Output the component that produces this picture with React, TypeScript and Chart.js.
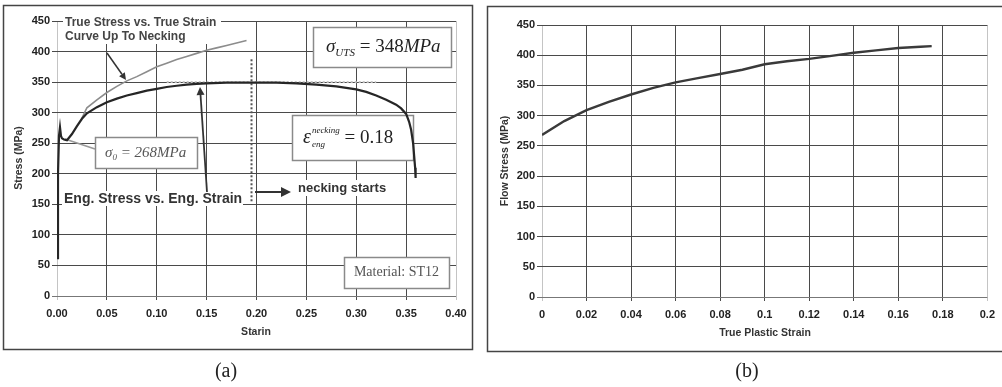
import React, { useEffect, useRef } from "react";
import { Chart, registerables } from "chart.js";
Chart.register(...registerables);

// ---------- (a) Engineering / true stress-strain ----------
const engStrain = [0, 0.001, 0.002, 0.003, 0.004, 0.005, 0.007, 0.01, 0.015, 0.02, 0.025, 0.03, 0.04, 0.05, 0.06, 0.07, 0.08, 0.09, 0.1, 0.11, 0.12, 0.13, 0.14, 0.15, 0.17, 0.2, 0.22, 0.24, 0.26, 0.28, 0.3, 0.31, 0.32, 0.33, 0.34, 0.345, 0.35, 0.353, 0.355, 0.357, 0.358, 0.359, 0.3595];
const engStress = [62, 200, 262, 276, 262, 258, 256, 255, 265, 278, 290, 299, 309, 317, 323, 328, 332, 336, 339, 342, 344, 346, 347, 348, 349, 349, 349, 348, 346, 343, 338, 334, 328, 321, 313, 307, 298, 285, 272, 250, 230, 210, 193];
const trueStrain = [0.025, 0.03, 0.04, 0.05, 0.06, 0.07, 0.08, 0.09, 0.1, 0.11, 0.12, 0.13, 0.14, 0.15, 0.16, 0.17, 0.18, 0.19];
const trueStress = [291, 308, 321, 333, 343, 352, 359, 367, 375, 381, 387, 392, 397, 402, 406, 410, 414, 418];
const utsLineStrain = [0.11, 0.32];
const utsLineStress = [350, 350];
const neckLineStrain = [0.195, 0.195];
const neckLineStress = [155, 390];
const aXTickValues = [0, 0.05, 0.1, 0.15, 0.2, 0.25, 0.3, 0.35, 0.4];
const aXTickLabels = ["0.00", "0.05", "0.10", "0.15", "0.20", "0.25", "0.30", "0.35", "0.40"];
const yTickValues = [0, 50, 100, 150, 200, 250, 300, 350, 400, 450];
const yTickLabels = ["0", "50", "100", "150", "200", "250", "300", "350", "400", "450"];

// ---------- (b) Flow stress ----------
const flowStrain = [0, 0.01, 0.02, 0.03, 0.04, 0.05, 0.06, 0.07, 0.08, 0.09, 0.1, 0.11, 0.12, 0.13, 0.14, 0.15, 0.16, 0.17, 0.175];
const flowStress = [268, 291, 309, 323, 335, 346, 355, 362, 369, 376, 385, 390, 394, 399, 404, 408, 412, 414, 415];
const bXTickValues = [0, 0.02, 0.04, 0.06, 0.08, 0.1, 0.12, 0.14, 0.16, 0.18, 0.2];
const bXTickLabels = ["0", "0.02", "0.04", "0.06", "0.08", "0.1", "0.12", "0.14", "0.16", "0.18", "0.2"];

const SANS = "'Liberation Sans', Arial, sans-serif";
const SERIF = "'Liberation Serif', 'Times New Roman', serif";
const GRID = "#4a4a4a";

const pts = (xs: number[], ys: number[]) => xs.map((x, i) => ({ x, y: ys[i] }));

type Seg = { t: string; font: string; dy?: number; adv?: boolean };
function drawRich(ctx: CanvasRenderingContext2D, x: number, y: number, segs: Seg[], color: string) {
  ctx.save();
  ctx.fillStyle = color;
  ctx.textAlign = "left";
  ctx.textBaseline = "alphabetic";
  let cx = x;
  for (const s of segs) {
    ctx.font = s.font;
    ctx.fillText(s.t, cx, y + (s.dy || 0));
    if (s.adv !== false) cx += ctx.measureText(s.t).width;
  }
  ctx.restore();
  return cx;
}

function drawArrow(ctx: CanvasRenderingContext2D, x1: number, y1: number, x2: number, y2: number, head: number, width: number, color: string) {
  ctx.save();
  ctx.strokeStyle = color;
  ctx.fillStyle = color;
  ctx.lineWidth = width;
  const a = Math.atan2(y2 - y1, x2 - x1);
  const bx = x2 - head * Math.cos(a);
  const by = y2 - head * Math.sin(a);
  ctx.beginPath();
  ctx.moveTo(x1, y1);
  ctx.lineTo(bx, by);
  ctx.stroke();
  ctx.beginPath();
  ctx.moveTo(x2, y2);
  ctx.lineTo(bx + head * 0.5 * Math.sin(a), by - head * 0.5 * Math.cos(a));
  ctx.lineTo(bx - head * 0.5 * Math.sin(a), by + head * 0.5 * Math.cos(a));
  ctx.closePath();
  ctx.fill();
  ctx.restore();
}

function box(ctx: CanvasRenderingContext2D, x: number, y: number, w: number, h: number) {
  ctx.save();
  ctx.fillStyle = "#fff";
  ctx.fillRect(x, y, w, h);
  ctx.strokeStyle = "#8a8a8a";
  ctx.lineWidth = 1.5;
  ctx.strokeRect(x + 0.5, y + 0.5, w, h);
  ctx.restore();
}

function text(ctx: CanvasRenderingContext2D, t: string, x: number, y: number, font: string, color: string, align: CanvasTextAlign = "left", rot = 0) {
  ctx.save();
  ctx.translate(x, y);
  if (rot) ctx.rotate(rot);
  ctx.font = font;
  ctx.fillStyle = color;
  ctx.textAlign = align;
  ctx.textBaseline = "middle";
  ctx.fillText(t, 0, 0);
  ctx.restore();
}

const annotA = {
  id: "annotA",
  beforeDraw(chart: any) {
    const ctx = chart.ctx as CanvasRenderingContext2D;
    ctx.save();
    ctx.fillStyle = "#fff";
    ctx.fillRect(0, 0, chart.width, chart.height);
    ctx.restore();
  },
  beforeDatasetsDraw(chart: any) {
    const ctx = chart.ctx as CanvasRenderingContext2D;
    // white backgrounds of free labels
    ctx.save();
    ctx.fillStyle = "#fff";
    ctx.fillRect(63, 13, 158, 31);
    ctx.fillRect(62, 191, 181, 15);
    ctx.fillRect(295, 180, 95, 16);
    ctx.restore();
    // boxes
    box(ctx, 313, 27, 138, 40);
    box(ctx, 292, 115, 121, 45);
    box(ctx, 95, 137, 102, 31);
    box(ctx, 344, 257, 105, 31);
    // connector for sigma0
    ctx.save();
    ctx.strokeStyle = "#9a9a9a";
    ctx.lineWidth = 1.5;
    ctx.beginPath();
    ctx.moveTo(95, 149);
    ctx.lineTo(65, 139);
    ctx.stroke();
    ctx.restore();

    const it = (s: number) => `italic ${s}px ${SERIF}`;
    const rg = (s: number) => `${s}px ${SERIF}`;
    drawRich(ctx, 326, 52, [
      { t: "σ", font: it(19) },
      { t: "UTS", font: it(11), dy: 4 },
      { t: " = 348", font: rg(19) },
      { t: "MPa", font: it(19) },
    ], "#222");
    // epsilon
    ctx.save();
    ctx.font = it(20);
    ctx.fillStyle = "#222";
    ctx.fillText("ε", 303, 143);
    const ew = ctx.measureText("ε").width;
    ctx.font = it(9);
    ctx.fillText("necking", 303 + ew + 1, 133);
    const nw = ctx.measureText("necking").width;
    ctx.fillText("eng", 303 + ew + 1, 147);
    ctx.font = rg(19);
    ctx.fillText(" = 0.18", 303 + ew + 1 + nw, 143);
    ctx.restore();
    drawRich(ctx, 105, 157, [
      { t: "σ", font: it(15) },
      { t: "0", font: it(9), dy: 3 },
      { t: " = 268MPa", font: it(15) },
    ], "#555");
    text(ctx, "Material: ST12", 396.5, 272, `14px ${SERIF}`, "#555", "center");

    text(ctx, "True Stress vs. True Strain", 65, 23, `bold 12px ${SANS}`, "#444");
    text(ctx, "Curve Up To Necking", 65, 37, `bold 12px ${SANS}`, "#444");
    text(ctx, "Eng. Stress vs. Eng. Strain", 64, 199, `bold 14px ${SANS}`, "#333");
    text(ctx, "necking starts", 298, 188, `bold 13px ${SANS}`, "#333");
  },
  afterDatasetsDraw(chart: any) {
    const ctx = chart.ctx as CanvasRenderingContext2D;
    drawArrow(ctx, 107, 53, 126, 80, 7, 1.5, "#333");
    drawArrow(ctx, 207, 192, 200, 87, 8, 1.8, "#333");
    drawArrow(ctx, 255, 192, 291, 192, 10, 2, "#333");
    // axis titles
    text(ctx, "Stress (MPa)", 19, 158, `bold 10.5px ${SANS}`, "#333", "center", -Math.PI / 2);
    text(ctx, "Starin", 256, 332, `bold 10.5px ${SANS}`, "#333", "center");
    // frame
    ctx.save();
    ctx.strokeStyle = "#444";
    ctx.lineWidth = 1.5;
    ctx.strokeRect(3.5, 5.5, 469, 344);
    ctx.restore();
    text(ctx, "(a)", 226, 372, `20px ${SERIF}`, "#222", "center");
  },
};

const annotB = {
  id: "annotB",
  beforeDraw(chart: any) {
    const ctx = chart.ctx as CanvasRenderingContext2D;
    ctx.save();
    ctx.fillStyle = "#fff";
    ctx.fillRect(0, 0, chart.width, chart.height);
    ctx.restore();
  },
  afterDatasetsDraw(chart: any) {
    const ctx = chart.ctx as CanvasRenderingContext2D;
    text(ctx, "Flow Stress (MPa)", 23, 161, `bold 10.5px ${SANS}`, "#333", "center", -Math.PI / 2);
    text(ctx, "True Plastic Strain", 283, 333, `bold 10.5px ${SANS}`, "#333", "center");
    ctx.save();
    ctx.strokeStyle = "#444";
    ctx.lineWidth = 1.5;
    ctx.beginPath();
    ctx.moveTo(chart.width, 6.5);
    ctx.lineTo(5.5, 6.5);
    ctx.lineTo(5.5, 351.5);
    ctx.lineTo(chart.width, 351.5);
    ctx.stroke();
    ctx.restore();
    text(ctx, "(b)", 265, 372, `20px ${SERIF}`, "#222", "center");
  },
};

function axes(xVals: number[], xLabels: string[], xMax: number, yWidth: number, xHeight: number) {
  const tickFont = { family: SANS, size: 11, weight: "bold" as const };
  return {
    x: {
      type: "linear" as const,
      min: 0,
      max: xMax,
      afterBuildTicks: (s: any) => {
        s.ticks = xVals.map((v) => ({ value: v }));
      },
      afterFit: (s: any) => {
        s.height = xHeight;
      },
      ticks: {
        autoSkip: false,
        maxRotation: 0,
        padding: 7,
        color: "#222",
        font: tickFont,
        callback: (_v: any, i: number) => xLabels[i],
      },
      grid: {
        color: (c: any) => (c.index === 0 || c.index === xVals.length - 1 ? "#c4c4c4" : GRID),
        lineWidth: 1,
        tickLength: 4,
      },
      border: { display: false },
    },
    y: {
      type: "linear" as const,
      min: 0,
      max: 450,
      afterBuildTicks: (s: any) => {
        s.ticks = yTickValues.map((v) => ({ value: v }));
      },
      afterFit: (s: any) => {
        s.width = yWidth;
      },
      ticks: {
        autoSkip: false,
        padding: 2,
        color: "#222",
        font: tickFont,
        callback: (_v: any, i: number) => yTickLabels[i],
      },
      grid: {
        color: (c: any) => (c.index === 0 ? "#777" : GRID),
        lineWidth: 1,
        tickLength: 5,
      },
      border: { display: false },
    },
  };
}

export default function App() {
  const refA = useRef<HTMLCanvasElement>(null);
  const refB = useRef<HTMLCanvasElement>(null);

  useEffect(() => {
    const common = {
      responsive: false,
      animation: false as const,
      devicePixelRatio: 1,
      plugins: { legend: { display: false }, tooltip: { enabled: false } },
      elements: { point: { radius: 0 }, line: { tension: 0 } },
    };
    const a = new Chart(refA.current!, {
      type: "line",
      data: {
        datasets: [
          { data: pts(engStrain, engStress), borderColor: "#262626", borderWidth: 2.2, fill: false },
          { data: pts(trueStrain, trueStress), borderColor: "#8c8c8c", borderWidth: 1.6, fill: false },
          { data: pts(utsLineStrain, utsLineStress), borderColor: "#c0c0c0", borderWidth: 2, borderDash: [2, 2], fill: false },
          { data: pts(neckLineStrain, neckLineStress), borderColor: "#555", borderWidth: 2, borderDash: [2, 2], fill: false },
        ],
      },
      options: {
        ...common,
        layout: { padding: { top: 21, right: 26, left: 0, bottom: 0 } },
        scales: axes(aXTickValues, aXTickLabels, 0.4, 57, 91),
      } as any,
      plugins: [annotA],
    });
    const b = new Chart(refB.current!, {
      type: "line",
      data: {
        datasets: [
          { data: pts(flowStrain, flowStress), borderColor: "#3a3a3a", borderWidth: 2.4, fill: false },
        ],
      },
      options: {
        ...common,
        layout: { padding: { top: 25, right: 11, left: 0, bottom: 0 } },
        scales: axes(bXTickValues, bXTickLabels, 0.2, 60, 90),
      } as any,
      plugins: [annotB],
    });
    return () => {
      a.destroy();
      b.destroy();
    };
  }, []);

  return (
    <div style={{ position: "absolute", left: 0, top: 0, width: 1002, height: 387, background: "#fff", overflow: "hidden" }}>
      <canvas ref={refA} width={482} height={387} style={{ position: "absolute", left: 0, top: 0, width: 482, height: 387 }} />
      <canvas ref={refB} width={520} height={387} style={{ position: "absolute", left: 482, top: 0, width: 520, height: 387 }} />
    </div>
  );
}
